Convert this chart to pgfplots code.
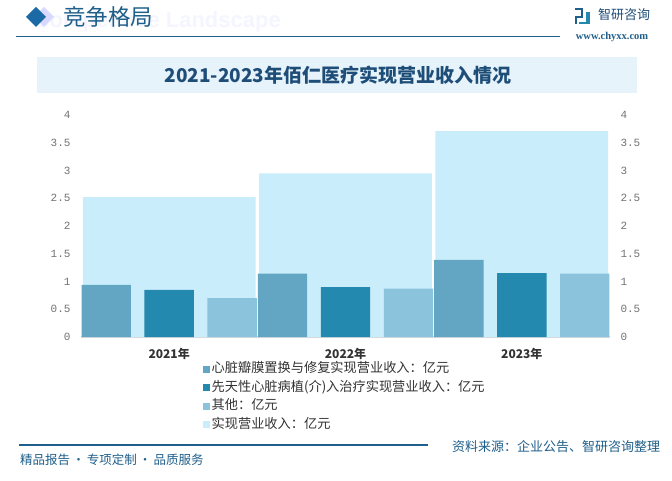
\documentclass[border=0pt]{standalone}
\usepackage{fontspec}
\usepackage{pgfplots}
\pgfplotsset{compat=1.18}
\setmainfont{Noto Sans CJK SC}
\setmonofont{Liberation Mono}
\newfontfamily\latinsans{Liberation Sans}
\newfontfamily\latinserif{Liberation Serif}

\definecolor{cValve}{HTML}{63A6C3}
\definecolor{cCong}{HTML}{2489AF}
\definecolor{cOther}{HTML}{8CC3DC}
\definecolor{cTotal}{HTML}{C9EDFB}
\definecolor{navy}{HTML}{1F5F8B}
\definecolor{diamond}{HTML}{1B6AA5}
\definecolor{titleblue}{HTML}{1E4D78}
\definecolor{banner}{HTML}{E6F3FB}

\begin{document}
\begin{tikzpicture}[x=1pt,y=1pt]
% page
\fill[white] (0,0) rectangle (672,480);
\path[use as bounding box] (0,0) rectangle (672,480);

% header
\node[anchor=east, font=\latinsans\bfseries\fontsize{22}{24}\selectfont, text=blue!4!white, inner sep=0pt] at (281,458) {Competitive Landscape};
\fill[blue!15!white] (44,473) -- (54,463) -- (44,453) -- (34,463) -- cycle;
\fill[diamond] (36,473) -- (46,463) -- (36,453) -- (26,463) -- cycle;
\node[anchor=west, font=\fontsize{22.5}{24}\selectfont, text=navy, inner sep=0pt] at (63,463) {竞争格局};
\draw[navy, line width=1.2pt] (16,443.5) -- (560,443.5);
% logo
\fill[navy] (575,470) rectangle (583,472);
\fill[navy] (581,462) rectangle (583,472);
\fill[navy] (575,462) rectangle (583,464);
\fill[navy] (575,456) rectangle (577,464);
\fill[cCong] (586,456) rectangle (590,468);
\fill[cCong] (579,456) rectangle (590,458);
\node[anchor=west, font=\fontsize{13}{15}\selectfont, text=titleblue, inner sep=0pt] at (598,465) {智研咨询};
\node[font=\latinserif\bfseries\fontsize{10.5}{12}\selectfont, text=navy, inner sep=0pt] at (612,443) {www.chyxx.com};

% title banner
\fill[banner] (37,423) rectangle (637,387);
\node[font=\bfseries\fontsize{19}{21}\selectfont, text=titleblue, inner sep=0pt] at (338,405) {2021-2023年佰仁医疗实现营业收入情况};

% footer
\draw[navy, line width=1.2pt] (19,35) -- (428,35);
\node[anchor=west, font=\fontsize{13}{15}\selectfont, text=navy, inner sep=0pt] at (452,33) {资料来源：企业公告、智研咨询整理};
\node[anchor=west, font=\fontsize{12.5}{15}\selectfont, text=navy, inner sep=0pt] at (20,20) {精品报告\,·\,专项定制\,·\,品质服务};

% main axis
\begin{axis}[
    at={(81pt,143pt)}, anchor=south west,
    scale only axis, width=529pt, height=222pt,
    xmin=-0.5, xmax=2.5, ymin=0, ymax=4,
    xtick={0,1,2}, xticklabels={2021年,2022年,2023年},
    ytick={0,0.5,...,4},
    axis x line=bottom, axis y line=left,
    x axis line style={-, draw=black!15, line width=1.2pt},
    y axis line style={draw=none},
    major tick length=0pt,
    /pgf/number format/assume math mode=true,
    xticklabel style={font=\bfseries\fontsize{12}{14}\selectfont, text=black!80, yshift=-8pt},
    yticklabel style={font=\ttfamily\fontsize{11}{12}\selectfont, text=black!55, xshift=-7pt},
    legend style={at={(0.2306,-0.115)}, anchor=north west, draw=none, fill=none,
        inner sep=0pt, row sep=5.5pt,
        font=\fontsize{13.2}{15}\selectfont, text=black!80,
        nodes={inner xsep=1.5pt, inner ysep=0pt, text height=10pt, text depth=3pt}},
    legend cell align=left,
    legend image code/.code={\fill[#1] (0pt,-3.5pt) rectangle (7pt,3.5pt);},
]
\addplot[ybar, bar width=0.98, bar shift=0, fill=cTotal, draw=none, forget plot]
    coordinates {(0,2.52) (1,2.95) (2,3.71)};
\addplot[ybar, bar width=0.28, bar shift=-0.357, fill=cValve, draw=none]
    coordinates {(0,0.94) (1,1.14) (2,1.39)};
\addlegendentry{心脏瓣膜置换与修复实现营业收入：亿元}
\addplot[ybar, bar width=0.28, bar shift=0, fill=cCong, draw=none]
    coordinates {(0,0.85) (1,0.90) (2,1.15)};
\addlegendentry{先天性心脏病植(介)入治疗实现营业收入：亿元}
\addplot[ybar, bar width=0.28, bar shift=0.357, fill=cOther, draw=none]
    coordinates {(0,0.70) (1,0.87) (2,1.14)};
\addlegendentry{其他：亿元}
\addlegendimage{fill=cTotal, draw=none}
\addlegendentry{实现营业收入：亿元}
\end{axis}

% right-hand value axis
\begin{axis}[
    at={(81pt,143pt)}, anchor=south west,
    scale only axis, width=529pt, height=222pt,
    xmin=-0.5, xmax=2.5, ymin=0, ymax=4,
    ytick={0,0.5,...,4},
    axis x line=none, axis y line*=right,
    y axis line style={draw=none},
    major tick length=0pt,
    /pgf/number format/assume math mode=true,
    yticklabel style={font=\ttfamily\fontsize{11}{12}\selectfont, text=black!55, anchor=west, xshift=7pt},
]
\addplot[draw=none] coordinates {(0,0)};
\end{axis}
\end{tikzpicture}
\end{document}
